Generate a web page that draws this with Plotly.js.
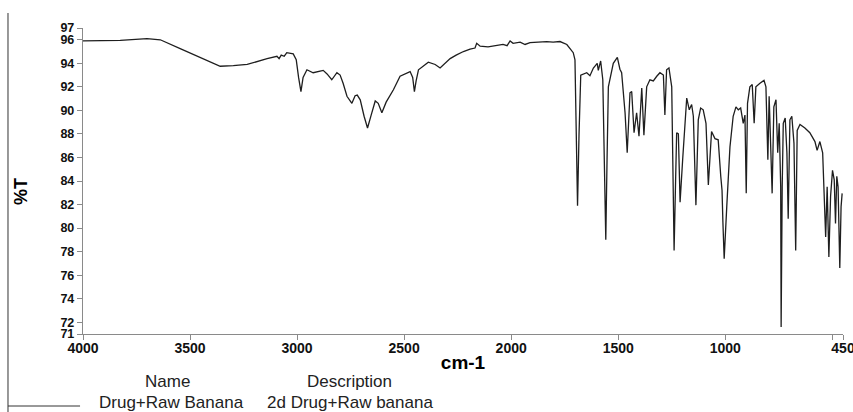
<!DOCTYPE html>
<html>
<head>
<meta charset="utf-8">
<script src="https://cdn.plot.ly/plotly-3.0.1.min.js"></script>
<style>html,body{margin:0;padding:0;background:#fff;}#chart{width:853px;height:412px;}</style>
</head>
<body>
<div id="chart"></div>
<script>
// Spectrum readings (wavenumber, cm-1) and transmittance (%T)
const wavenumber = [4000,3919,3826,3701,3639,3546,3452,3359,3298,3233,3140,3094,3084,3074,3060,3048,3018,3004,2993,2982,2972,2954,2925,2901,2878,2860,2838,2814,2799,2785,2767,2744,2729,2719,2705,2687,2671,2654,2635,2621,2604,2584,2550,2519,2495,2472,2460,2452,2444,2433,2387,2355,2332,2285,2257,2223,2192,2169,2161,2145,2108,2067,2038,2019,2005,1991,1958,1935,1912,1874,1834,1804,1772,1740,1725,1710,1702,1696,1690,1683,1675,1647,1632,1616,1598,1593,1582,1572,1564,1558,1552,1546,1523,1504,1492,1484,1468,1458,1445,1437,1426,1414,1403,1390,1380,1367,1352,1336,1320,1305,1289,1282,1274,1263,1250,1244,1239,1232,1227,1219,1211,1199,1180,1168,1157,1149,1137,1126,1115,1103,1090,1079,1071,1064,1048,1033,1021,1015,1011,1005,993,978,963,950,939,928,916,908,902,896,885,874,865,857,838,819,810,801,795,785,781,773,763,755,748,741,739,734,729,720,712,706,698,689,679,671,664,651,628,605,581,571,558,545,539,531,524,516,508,499,491,485,479,473,465,459,454];
const transmittance = [95.9,95.9,95.95,96.1,96.0,95.25,94.5,93.75,93.8,93.9,94.4,94.6,94.4,94.7,94.6,94.9,94.8,94.3,92.8,91.6,92.8,93.45,93.2,93.3,93.4,93.1,92.6,93.2,93.0,92.3,91.2,90.6,91.25,91.3,90.9,89.5,88.5,89.6,90.8,90.6,89.8,90.7,91.75,92.9,93.1,93.3,92.8,91.6,92.5,93.45,94.1,93.9,93.6,94.4,94.7,95.0,95.2,95.3,95.7,95.45,95.4,95.5,95.6,95.5,95.9,95.7,95.8,95.6,95.75,95.8,95.85,95.8,95.85,95.6,95.2,94.9,94.3,88.0,81.9,88.0,93.0,93.2,92.95,93.6,94.0,93.4,94.2,92.6,86.0,79.0,86.0,92.0,94.0,94.5,93.5,93.2,89.8,86.4,91.5,91.6,88.1,89.8,87.8,91.9,87.9,92.0,92.6,92.5,92.9,93.2,93.0,89.6,93.45,93.6,92.0,85.0,78.1,84.0,88.1,88.0,82.2,85.8,91.05,90.05,90.5,89.5,81.95,89.2,90.2,90.05,88.9,83.66,86.4,88.2,87.6,87.5,84.4,83.2,80.5,77.4,81.8,86.9,89.5,90.3,90.05,90.2,88.9,89.6,82.95,90.6,92.0,92.2,88.9,92.0,92.3,92.55,92.0,85.8,91.2,86.4,82.95,90.3,90.9,86.4,88.9,83.5,71.6,83.5,88.9,89.35,86.4,80.8,89.2,89.5,87.2,78.1,88.3,88.8,88.5,88.1,87.35,86.6,87.35,86.4,82.95,79.25,83.5,77.55,82.7,84.9,84.1,80.4,84.4,83.5,76.6,81.8,82.95];

// Tick labels
const xTickVals = [4000,3500,3000,2500,2000,1500,1000,500,450];
const xTickText = ["4000","3500","3000","2500","2000","1500","1000","","450"];
const yTickVals = [71,72,74,76,78,80,82,84,86,88,90,92,94,96,97];
const yTickText = ["71","72","74","76","78","80","82","84","86","88","90","92","94","96","97"];

// Legend table texts
const legendHeaders = ["Name","Description"];
const legendRow = ["Drug+Raw Banana","2d Drug+Raw banana"];
const yTitle = "%T";

const FONT = "Liberation Sans, Arial, Helvetica, sans-serif";
const axisColor = "#8a8a8a";

const trace = {
  x: wavenumber,
  y: transmittance,
  type: "scatter",
  mode: "lines",
  line: {color: "#1e1e1e", width: 1.3},
  hoverinfo: "x+y",
  showlegend: false
};

const layout = {
  width: 853,
  height: 412,
  margin: {l: 83, r: 10, t: 28, b: 78},
  paper_bgcolor: "#ffffff",
  plot_bgcolor: "#ffffff",
  showlegend: false,
  font: {family: FONT, color: "#000"},
  xaxis: {
    range: [4000, 450],
    autorange: false,
    tickmode: "array",
    tickvals: xTickVals,
    ticktext: xTickText,
    ticks: "outside",
    ticklen: 5,
    tickwidth: 1,
    tickcolor: axisColor,
    ticklabeloverflow: "allow",
    ticklabelstandoff: -4,
    showline: true,
    linecolor: axisColor,
    linewidth: 1.2,
    showgrid: false,
    zeroline: false,
    tickfont: {family: FONT, size: 14, weight: "bold", color: "#111"},
    title: {text: "cm-1", font: {family: FONT, size: 19, weight: "bold", color: "#000"}, standoff: 0}
  },
  yaxis: {
    range: [71, 97],
    autorange: false,
    tickmode: "array",
    tickvals: yTickVals,
    ticktext: yTickText,
    ticks: "outside",
    ticklen: 5,
    tickwidth: 1,
    tickcolor: axisColor,
    ticklabeloverflow: "allow",
    showline: true,
    linecolor: axisColor,
    linewidth: 1.2,
    showgrid: false,
    zeroline: false,
    tickfont: {family: FONT, size: 12.5, weight: "bold", color: "#111"}
  },
  shapes: [
    {type: "line", xref: "paper", yref: "paper", x0: -0.0987, x1: -0.0987, y0: 1.049, y1: -0.27, line: {color: "#333", width: 1}},
    {type: "line", xref: "paper", yref: "paper", x0: -0.0987, x1: -0.0039, y0: -0.2353, y1: -0.2353, line: {color: "#333", width: 1}}
  ],
  annotations: [
    {text: yTitle, xref: "paper", yref: "paper", x: -0.0816, y: 0.4673, xanchor: "center", yanchor: "middle", textangle: -90, showarrow: false, font: {family: FONT, size: 18, weight: "bold", color: "#000"}},
    {text: legendHeaders[0], xref: "paper", yref: "paper", x: 0.1118, y: -0.1559, xanchor: "center", yanchor: "middle", showarrow: false, font: {family: FONT, size: 17, color: "#222"}},
    {text: legendHeaders[1], xref: "paper", yref: "paper", x: 0.3513, y: -0.1559, xanchor: "center", yanchor: "middle", showarrow: false, font: {family: FONT, size: 17, color: "#222"}},
    {text: legendRow[0], xref: "paper", yref: "paper", x: 0.1171, y: -0.2245, xanchor: "center", yanchor: "middle", showarrow: false, font: {family: FONT, size: 17, color: "#222"}},
    {text: legendRow[1], xref: "paper", yref: "paper", x: 0.3513, y: -0.2245, xanchor: "center", yanchor: "middle", showarrow: false, font: {family: FONT, size: 17, color: "#222"}}
  ]
};

Plotly.newPlot("chart", [trace], layout, {staticPlot: true, displayModeBar: false});
</script>
</body>
</html>
